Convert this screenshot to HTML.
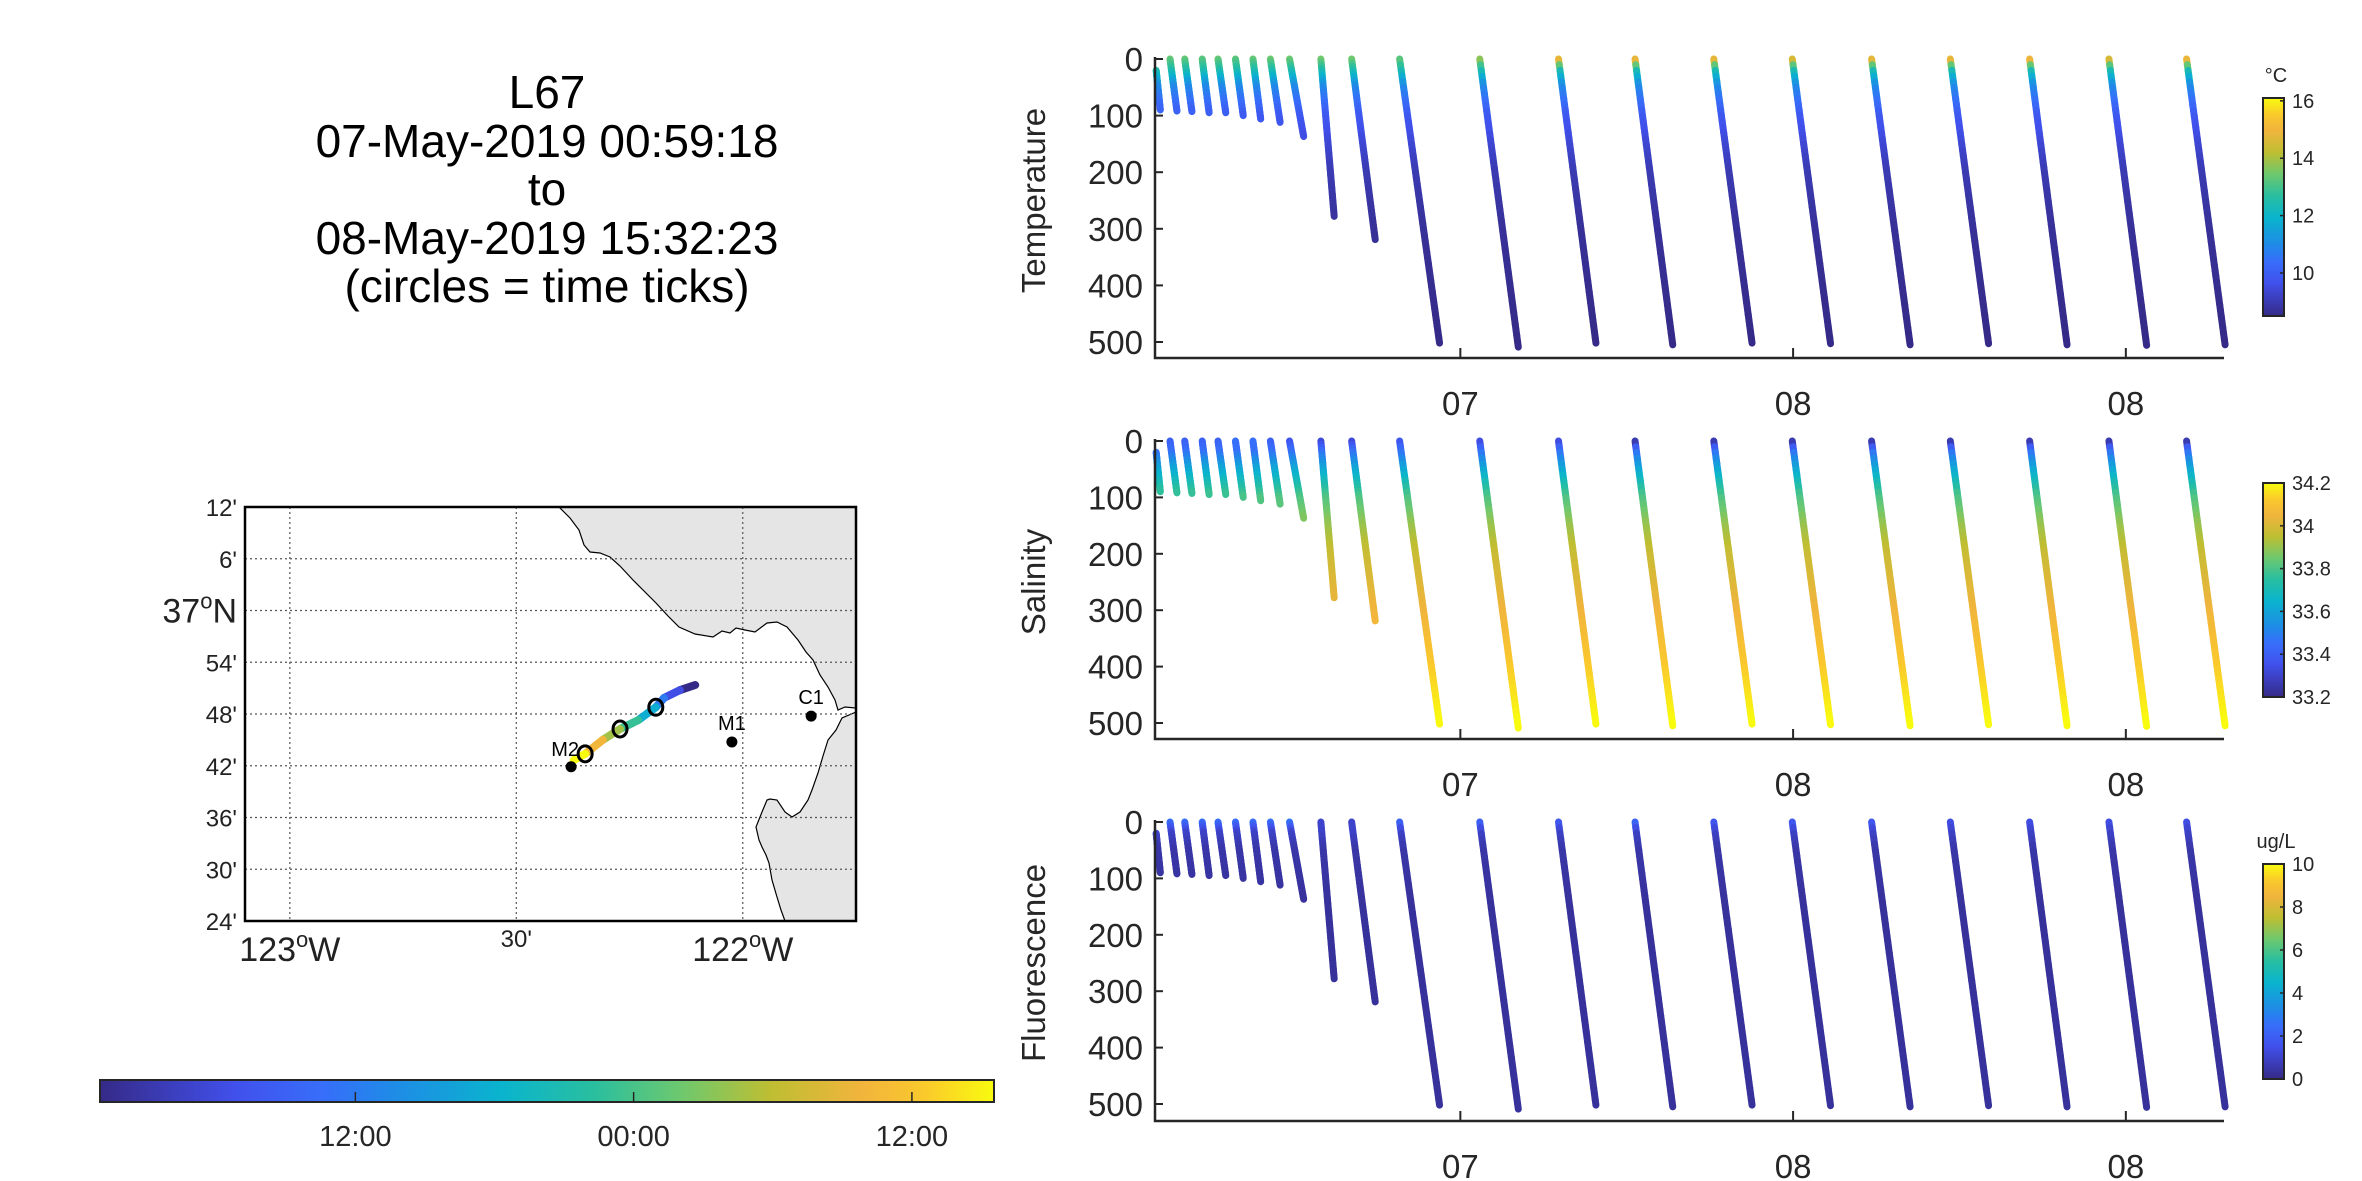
<!DOCTYPE html>
<html><head><meta charset="utf-8">
<style>
html,body{margin:0;padding:0;background:#fff;}
svg{display:block;font-family:"Liberation Sans","DejaVu Sans",sans-serif;}
</style></head>
<body>
<svg id="fig" width="2362" height="1181" viewBox="0 0 2362 1181" xmlns="http://www.w3.org/2000/svg">
<defs>
<linearGradient id="parulaH" x1="0" x2="1" y1="0" y2="0"></linearGradient>
<linearGradient id="parulaV" x1="0" x2="0" y1="1" y2="0"></linearGradient>
</defs>
<g font-size="46" text-anchor="middle" fill="#000">
<text x="547" y="108">L67</text>
<text x="547" y="157">07-May-2019 00:59:18</text>
<text x="547" y="205">to</text>
<text x="547" y="254">08-May-2019 15:32:23</text>
<text x="547" y="302">(circles = time ticks)</text>
</g>
<g id="map"></g>
<g id="timebar"></g>
<g id="panels"></g>
</svg>
<script>
// ---- data ----
const profStart = [1.03,1.53,2.06,2.69,3.26,3.89,4.52,5.15,5.84,6.97,8.08,9.81,12.70,15.54,18.30,21.14,23.97,26.83,29.67,32.53,35.39,38.19];
const profEnd   = [1.18,1.78,2.32,2.94,3.54,4.17,4.80,5.50,6.35,7.45,8.93,11.25,14.09,16.89,19.66,22.52,25.35,28.22,31.05,33.88,36.75,39.58];
const profTop   = [20,0,0,0,0,0,0,0,0,0,0,0,0,0,0,0,0,0,0,0,0,0];
const profDepth = [90,92,93,95,95,100,106,112,137,278,319,502,509,502,505,502,503,505,503,505,506,505];
const surfTemp  = [11.6,13.4,13.4,13.3,13.4,13.3,13.4,13.5,13.5,13.6,13.6,13.4,14.1,15.5,15.6,15.5,15.2,15.5,15.6,15.7,15.2,15.6];
const surfSal   = [33.45,33.4,33.4,33.4,33.4,33.45,33.45,33.4,33.35,33.3,33.3,33.35,33.3,33.3,33.2,33.2,33.2,33.2,33.2,33.2,33.2,33.2];
const surfFluo  = [1.0,2.6,2.6,2.5,2.6,2.6,2.6,2.6,2.8,1.0,1.0,2.4,2.3,2.0,2.5,2.0,2.0,2.0,1.5,1.5,1.5,1.5];
const profLevels = [20,50,100,150,200,300,400,500];
const tempAtLevel = [12.6,11.0,9.9,9.4,9.0,8.7,8.6,8.5];
const salAtLevel  = [33.45,33.6,33.8,33.9,33.97,34.05,34.12,34.2];
const fluoAtLevel = [1.0,0.5,0.4,0.3,0.3,0.3,0.3,0.3];
const depthTicks = [0,100,200,300,400,500];
const timeTickHours = [12,24,36];
const timeTickLabels = ["07","08","08"];
const cbTicksT = [10,12,14,16]; const cbRangeT=[8.5,16.1];
const cbTicksS = [33.2,33.4,33.6,33.8,34,34.2]; const cbRangeS=[33.2,34.2];
const cbTicksF = [0,2,4,6,8,10]; const cbRangeF=[0,10];
// map data
const trackLon = [-122.105,-122.139,-122.174,-122.192,-122.231,-122.271,-122.309,-122.348,-122.373];
const trackLat = [36.856,36.846,36.831,36.813,36.788,36.771,36.750,36.723,36.711];
const circleLon = [-122.192,-122.271,-122.348];
const circleLat = [36.813,36.771,36.723];
const stationName = ["M2","M1","C1"];
const stationLon = [-122.379,-122.024,-121.849];
const stationLat = [36.698,36.746,36.796];
const timebarTickHours = [12,24,36];
const timebarTickLabels = ["12:00","00:00","12:00"];

// ---- parula-like colormap ----
const PAR=[[0,53,42,135],[0.15,65,80,235],[0.25,55,110,250],[0.33,30,140,230],[0.45,10,180,205],[0.55,40,190,160],[0.65,110,200,110],[0.75,190,190,50],[0.85,240,180,60],[0.92,250,200,45],[1,249,251,14]];
function parula(t){t=Math.max(0,Math.min(1,t));for(let i=1;i<PAR.length;i++){if(t<=PAR[i][0]){const a=PAR[i-1],b=PAR[i],f=(t-a[0])/(b[0]-a[0]);return `rgb(${Math.round(a[1]+f*(b[1]-a[1]))},${Math.round(a[2]+f*(b[2]-a[2]))},${Math.round(a[3]+f*(b[3]-a[3]))})`;}}return 'rgb(249,251,14)';}
const NS="http://www.w3.org/2000/svg";
function mk(tag,attrs,parent){const e=document.createElementNS(NS,tag);for(const k in attrs)e.setAttribute(k,attrs[k]);if(parent)parent.appendChild(e);return e;}
for(const id of ["parulaH","parulaV"]){const g=document.getElementById(id);for(let i=0;i<=40;i++){mk('stop',{offset:(i/40),'stop-color':parula(i/40)},g);}}

// ---- panels ----
const T0=0.988,T1=39.54,X0=1155,X1=2224;
const xT=h=>X0+(h-T0)/(T1-T0)*(X1-X0);
const panels=[
 {name:'temperature',title:'Temperature',y0:59,y500:342,bottom:358,surf:surfTemp,lev:tempAtLevel,rng:cbRangeT,ticks:cbTicksT,cbTop:98,cbBot:316,unit:'°C'},
 {name:'salinity',title:'Salinity',y0:441,y500:723,bottom:739,surf:surfSal,lev:salAtLevel,rng:cbRangeS,ticks:cbTicksS,cbTop:483,cbBot:697,unit:''},
 {name:'fluorescence',title:'Fluorescence',y0:822,y500:1104,bottom:1121,surf:surfFluo,lev:fluoAtLevel,rng:cbRangeF,ticks:cbTicksF,cbTop:864,cbBot:1079,unit:'ug/L'}];
const root=document.getElementById('panels');
function valueAt(p,i,d){if(d<=0)return p.surf[i];const L=[0].concat(profLevels),V=[p.surf[i]].concat(p.lev);for(let k=1;k<L.length;k++){if(d<=L[k]){const f=(d-L[k-1])/(L[k]-L[k-1]);return V[k-1]+f*(V[k]-V[k-1]);}}return V[V.length-1];}
panels.forEach(p=>{
 const g=mk('g',{},root);
 
 
 const yD=d=>p.y0+d/500*(p.y500-p.y0);
 for(let i=0;i<profStart.length;i++){
  const pg=mk('g',{},g);
  
  
  const n=50, d0=profTop[i], d1=profDepth[i];
  for(let s=0;s<n;s++){
   const da=d0+(d1-d0)*s/n, db=d0+(d1-d0)*(s+1)/n;
   const ha=profStart[i]+(profEnd[i]-profStart[i])*(da-d0)/(d1-d0);
   const hb=profStart[i]+(profEnd[i]-profStart[i])*(db-d0)/(d1-d0);
   const v=valueAt(p,i,(da+db)/2);
   mk('line',{x1:xT(ha),y1:yD(da),x2:xT(hb),y2:yD(db),stroke:parula((v-p.rng[0])/(p.rng[1]-p.rng[0])),'stroke-width':7,'stroke-linecap':'round'},pg);
  }
 }
 const ax=mk('path',{d:`M${X0},${p.y0-2} V${p.bottom} H${X1}`,fill:'none',stroke:'#262626','stroke-width':2.5},g);
 
 
 depthTicks.forEach(d=>{
  mk('line',{x1:X0,x2:X0+8,y1:yD(d),y2:yD(d),stroke:'#262626','stroke-width':2},g);
  const t=mk('text',{x:X0-12,y:yD(d)+12,'font-size':33,'text-anchor':'end',fill:'#262626'},g);
  t.textContent=d;
  
  
 });
 timeTickHours.forEach((h,k)=>{
  mk('line',{x1:xT(h),x2:xT(h),y1:p.bottom,y2:p.bottom-10,stroke:'#262626','stroke-width':2},g);
  const t=mk('text',{x:xT(h),y:p.bottom+57,'font-size':33,'text-anchor':'middle',fill:'#262626'},g);
  t.textContent=timeTickLabels[k];
  
  
 });
 const cy=(p.y0+p.y500)/2;
 const yt=mk('text',{x:0,y:0,'font-size':33,'text-anchor':'middle',fill:'#262626',transform:`translate(1045,${cy}) rotate(-90)`},g);
 yt.textContent=p.title;
 
 
 const cb=mk('g',{},g);
 
 
 mk('rect',{x:2263,y:p.cbTop,width:21,height:p.cbBot-p.cbTop,fill:'url(#parulaV)',stroke:'#262626','stroke-width':2},cb);
 const yc=v=>p.cbBot-(v-p.rng[0])/(p.rng[1]-p.rng[0])*(p.cbBot-p.cbTop);
 p.ticks.forEach(v=>{
  mk('line',{x1:2280,x2:2284,y1:yc(v),y2:yc(v),stroke:'#262626','stroke-width':1.5},cb);
  const t=mk('text',{x:2292,y:yc(v)+7,'font-size':20,fill:'#262626'},cb);
  t.textContent=String(v);
  
  
 });
 if(p.unit){const u=mk('text',{x:2276,y:p.cbTop-16,'font-size':20,'text-anchor':'middle',fill:'#262626'},cb);u.textContent=p.unit;
  
  }
});

// ---- map ----
const map=document.getElementById('map');
const MX0=245,MX1=856,MY0=507,MY1=921,LON0=-123.099,LON1=-121.75,LAT0=36.4,LAT1=37.2;
const xL=lo=>MX0+(lo-LON0)/(LON1-LON0)*(MX1-MX0);
const yL=la=>MY1-(la-LAT0)/(LAT1-LAT0)*(MY1-MY0);
const land=mk('polygon',{points:"559,507 570,518 579,530 584,545 590,552 600,553 610,557 620,566 633,580 645,592 656,603 668,616 679,627 695,634 713,637 722,631 730,633 736,628 745,630 755,632 767,623 777,622 787,627 798,640 806,652 813,660 820,675 828,687 835,700 838,710 845,707 856,708 856,712 842,718 836,730 828,740 823,756 818,773 812,790 808,800 800,812 792,817 785,812 777,800 770,799 767,800 762,812 756,827 759,840 762,847 766,855 769,863 772,880 777,897 781,910 785,921 856,921 856,507",fill:'#e5e5e5',stroke:'#000','stroke-width':1.2},map);


[-123,-122.5,-122].forEach(lo=>mk('line',{x1:xL(lo),x2:xL(lo),y1:MY0,y2:MY1,stroke:'#555','stroke-width':1.2,'stroke-dasharray':'2,3'},map));
const latLabels=["24'","30'","36'","42'","48'","54'","37N","6'","12'"];
for(let k=0;k<9;k++){const la=36.4+k*0.1;
 if(k>0&&k<8)mk('line',{x1:MX0,x2:MX1,y1:yL(la),y2:yL(la),stroke:'#555','stroke-width':1.2,'stroke-dasharray':'2,3'},map);
 const t=mk('text',{x:MX0-8,y:yL(la)+9,'font-size':24,'text-anchor':'end',fill:'#222'},map);
 if(latLabels[k]==='37N'){t.setAttribute('font-size','34');t.setAttribute('y',yL(la)+12);t.innerHTML='37<tspan font-size="22" dy="-14">o</tspan><tspan dy="14">N</tspan>';}
 else t.textContent=latLabels[k];
 
 
}
[[-123,'123','W'],[-122.5,"30'",''],[-122,'122','W']].forEach(a=>{
 const t=mk('text',{x:xL(a[0]),y:a[2]?961:947,'font-size':a[2]?34:24,'text-anchor':'middle',fill:'#222'},map);
 if(a[2])t.innerHTML=a[1]+'<tspan font-size="22" dy="-14">o</tspan><tspan dy="14">W</tspan>';else t.textContent=a[1];
 
 
});
const box=mk('rect',{x:MX0,y:MY0,width:MX1-MX0,height:MY1-MY0,fill:'none',stroke:'#000','stroke-width':2.5},map);


for(let i=0;i<trackLon.length-1;i++){
 const s=mk('line',{x1:xL(trackLon[i]),y1:yL(trackLat[i]),x2:xL(trackLon[i+1]),y2:yL(trackLat[i+1]),stroke:parula(i/(trackLon.length-2)),'stroke-width':8,'stroke-linecap':'round'},map);
 
 
}
stationName.forEach((n,i)=>{
 const c=mk('circle',{cx:xL(stationLon[i]),cy:yL(stationLat[i]),r:5.5,fill:'#000'},map);
 
 
 const t=mk('text',{x:xL(stationLon[i])+(i===0?-6:0),y:yL(stationLat[i])-(i===0?11:12),'font-size':20,'text-anchor':'middle',fill:'#000'},map);
 t.textContent=n;
 
 
});
circleLon.forEach((lo,i)=>{const c=mk('ellipse',{cx:xL(lo),cy:yL(circleLat[i]),rx:7,ry:8,fill:'none',stroke:'#000','stroke-width':3},map);
 
 });

// ---- time colorbar ----
const tb=document.getElementById('timebar');
const BX0=100,BX1=994;
const xB=h=>BX0+(h-T0)/(T1-T0)*(BX1-BX0);
mk('rect',{x:BX0,y:1080,width:BX1-BX0,height:22,fill:'url(#parulaH)',stroke:'#262626','stroke-width':2},tb);
timebarTickHours.forEach((h,k)=>{
 mk('line',{x1:xB(h),x2:xB(h),y1:1092,y2:1102,stroke:'#262626','stroke-width':1.5},tb);
 const t=mk('text',{x:xB(h),y:1146,'font-size':29,'text-anchor':'middle',fill:'#262626'},tb);
 t.textContent=timebarTickLabels[k];
 
 
});
</script>
</body></html>
